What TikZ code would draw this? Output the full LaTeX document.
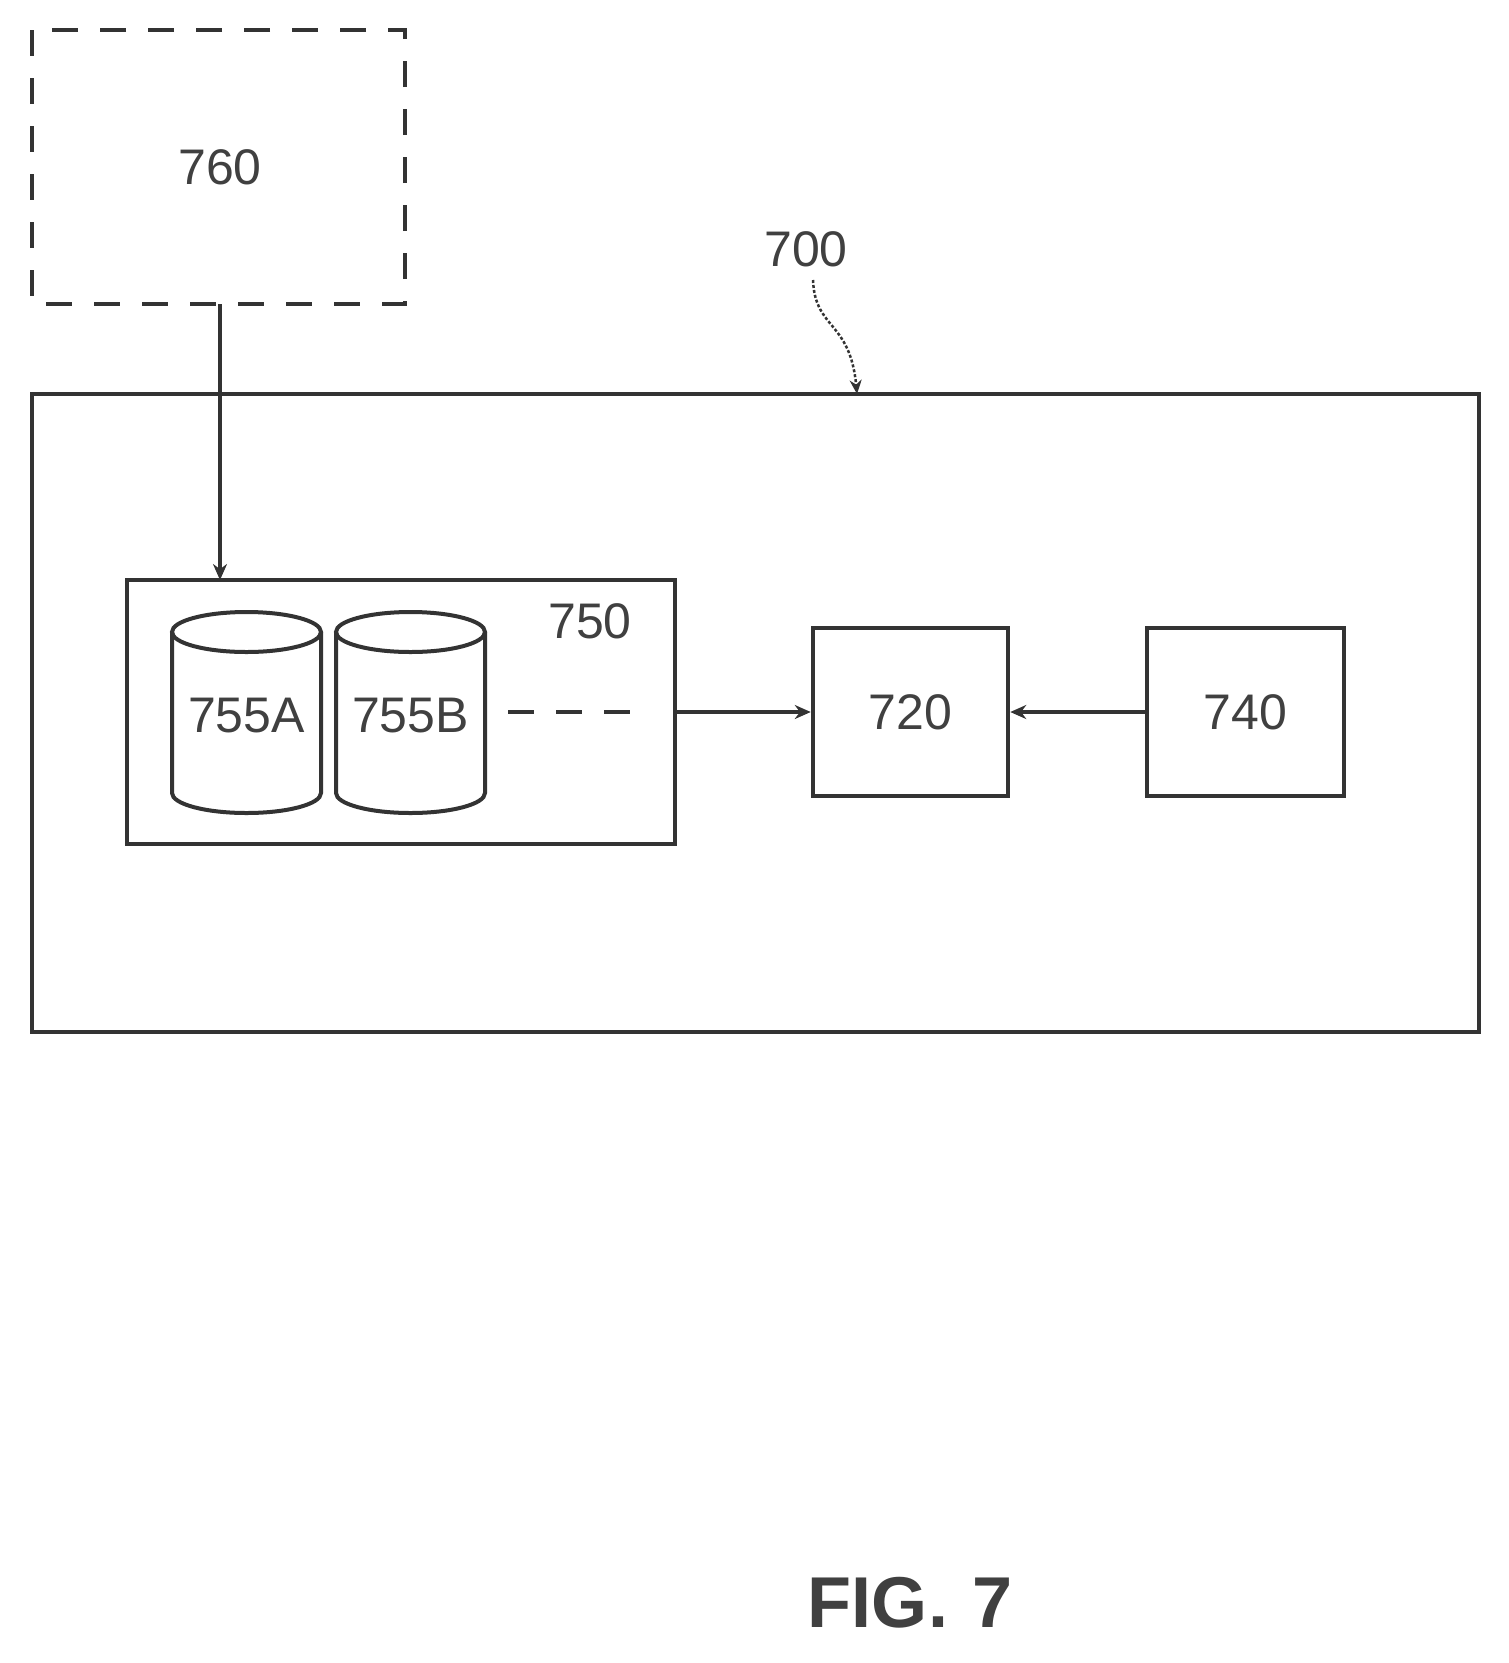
\documentclass[tikz,border=0pt]{standalone}
\usepackage{fontspec}
\setmainfont{Liberation Sans}
\usetikzlibrary{arrows.meta,decorations.pathmorphing}
\begin{document}
\begin{tikzpicture}[x=1pt,y=-1pt,line width=4.5pt,
  lbl/.style={font=\fontsize{50}{56}\selectfont,text=black!75},
  box/.style={draw=black!80,line width=4.5pt},
  arr/.style={draw=black!80,line width=4pt,-{Stealth[length=16pt,width=14pt]}}]
\useasboundingbox (0,0) rectangle (1508,1663);
% 760
\draw[box,dash pattern=on 26pt off 22pt] (32,30) rectangle (405,304);
\node[lbl] (n760) at (220,167) {760};
% 700
\draw[box] (32,394) rectangle (1479,1032);
\node[lbl] (n700) at (806,249) {700};
\coordinate (a700) at (857,394);
\draw[black!80,line width=2.5pt,dash pattern=on 3pt off 2pt,-{Stealth[length=14pt,width=12pt]}] (813,280) .. controls (815,330) and (850,320) .. (a700);
% 750
\draw[box] (127,580) rectangle (675,844);
\node[lbl] (n750) at (590,621) {750};
\coordinate (top750) at (220,580);
\coordinate (bot760) at (220,304);
\draw[arr] (bot760) -- (top750);
% cylinders
\foreach \x/\t/\n in {172/755A/ca,336/755B/cb}{
  \draw[box,line width=4pt] (\x,632) -- (\x,793) arc[start angle=180,end angle=360,x radius=74.5pt,y radius=20pt] -- (\x+149,632);
  \draw[box,line width=4pt] (\x+74.5,632) ellipse[x radius=74.5pt,y radius=20pt];
  \node[lbl] (\n) at (\x+74.5,716) {\t};
}
\draw[box,dash pattern=on 26pt off 22pt] (508,712) -- (645,712);
% 720, 740
\node[box,minimum width=195pt,minimum height=168pt,lbl,inner sep=0pt] (n720) at (910.5,712) {720};
\node[box,minimum width=197pt,minimum height=168pt,lbl,inner sep=0pt] (n740) at (1245.5,712) {740};
\coordinate (r750) at (675,712);
\draw[arr] (r750) -- (n720.west);
\draw[arr] (n740.west) -- (n720.east);
% FIG
\node[font=\fontsize{72}{80}\selectfont\bfseries,text=black!75] (fig) at (910,1603) {FIG.\,\,7};
\end{tikzpicture}
\end{document}
